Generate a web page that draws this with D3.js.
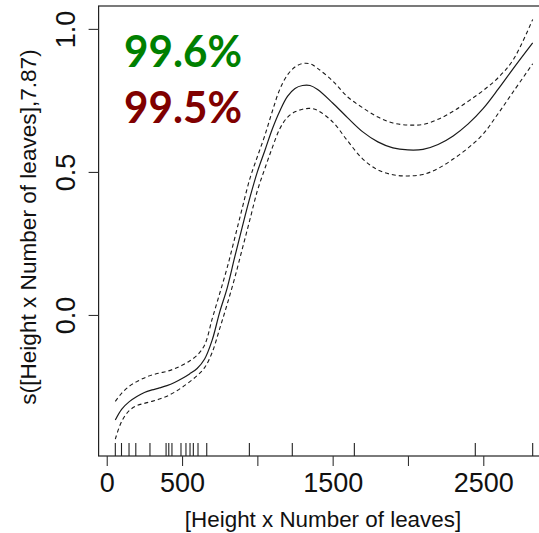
<!DOCTYPE html>
<html>
<head>
<meta charset="utf-8">
<script src="https://cdn.jsdelivr.net/npm/d3@7"></script>
<style>
  html, body { margin: 0; padding: 0; background: #fff; }
  svg { display: block; }
</style>
</head>
<body>
<div id="chart"></div>
<script>
// smooth term values
var xGrid = [57, 100, 150, 200, 250, 300, 350, 400, 450, 500, 550, 600, 650, 700, 750, 800, 850, 900, 950, 1000,
    1050, 1100, 1150, 1200, 1250, 1300, 1350, 1400, 1500, 1600, 1700, 1800, 1900, 2000, 2100, 2200, 2300, 2400,
    2500, 2600, 2700, 2828];

var fitVals = [-0.367, -0.329, -0.303, -0.285, -0.271, -0.262, -0.255, -0.247, -0.236, -0.222, -0.206, -0.187,
    -0.154, -0.088, 0.010, 0.095, 0.203, 0.308, 0.409, 0.500, 0.575, 0.651, 0.714, 0.764, 0.792, 0.802, 0.802,
    0.788, 0.741, 0.689, 0.640, 0.605, 0.584, 0.577, 0.579, 0.596, 0.626, 0.668, 0.722, 0.790, 0.862, 0.951];

var upperVals = [-0.302, -0.273, -0.249, -0.233, -0.220, -0.210, -0.203, -0.197, -0.188, -0.176, -0.161, -0.141,
    -0.105, -0.014, 0.075, 0.166, 0.269, 0.374, 0.476, 0.553, 0.628, 0.713, 0.790, 0.839, 0.867, 0.879, 0.878,
    0.862, 0.818, 0.762, 0.724, 0.692, 0.671, 0.664, 0.666, 0.684, 0.712, 0.747, 0.785, 0.830, 0.893, 1.033];

var lowerVals = [-0.434, -0.371, -0.334, -0.317, -0.309, -0.302, -0.294, -0.284, -0.270, -0.253, -0.234, -0.212,
    -0.184, -0.131, -0.048, 0.038, 0.130, 0.231, 0.332, 0.434, 0.512, 0.586, 0.652, 0.691, 0.710, 0.719, 0.722,
    0.715, 0.675, 0.608, 0.545, 0.507, 0.490, 0.486, 0.491, 0.512, 0.545, 0.584, 0.633, 0.705, 0.781, 0.878];

var rugX = [57, 98, 148, 193, 287, 394, 412, 433, 493, 526, 553, 575, 606, 664, 947, 1232, 1644, 2447, 2828];

var xTicks = [0, 500, 1000, 1500, 2000, 2500];
var xTickLabels = ['0', '500', '', '1500', '', '2500'];
var yTicks = [0, 0.5, 1.0];
var yTickLabels = ['0.0', '0.5', '1.0'];

var pctLabels = ['99.6%', '99.5%'];
var pctColors = ['#008000', '#800000'];

var W = 539, H = 533;
var box = { left: 98.6, right: 549.4, top: 6, bottom: 456 };

var svg = d3.select('#chart').append('svg').attr('width', W).attr('height', H);

var x = d3.scaleLinear().domain([-54, 2939]).range([box.left, box.right]);
var y = d3.scaleLinear().domain([-0.493, 1.080]).range([box.bottom, box.top]);

var axisFont = '"Liberation Sans", Arial, sans-serif';

// plot frame
svg.append('rect')
    .attr('x', box.left).attr('y', box.top)
    .attr('width', box.right - box.left).attr('height', box.bottom - box.top)
    .attr('fill', 'none').attr('stroke', '#222').attr('stroke-width', 1.2);

// x axis ticks + labels
var xAxis = d3.axisBottom(x).tickValues(xTicks).tickSize(10).tickSizeOuter(0)
    .tickFormat(function (d, i) { return xTickLabels[i]; });
var gx = svg.append('g').attr('transform', 'translate(0,' + box.bottom + ')').call(xAxis);
gx.select('.domain').remove();
gx.selectAll('line').attr('stroke', '#333').attr('stroke-width', 1.1);
gx.selectAll('text').attr('fill', '#111').attr('font-family', axisFont).attr('font-size', 27).attr('y', 36).attr('dy', 0);

// y axis ticks + rotated labels
var yAxis = d3.axisLeft(y).tickValues(yTicks).tickSize(10).tickSizeOuter(0)
    .tickFormat(function (d, i) { return yTickLabels[i]; });
var gy = svg.append('g').attr('transform', 'translate(' + box.left + ',0)').call(yAxis);
gy.select('.domain').remove();
gy.selectAll('line').attr('stroke', '#333').attr('stroke-width', 1.1);
gy.selectAll('text').remove();
gy.selectAll('.tick').append('text')
    .attr('transform', 'translate(-23.5,0) rotate(-90)')
    .attr('text-anchor', 'middle')
    .attr('fill', '#111').attr('font-family', axisFont).attr('font-size', 27)
    .text(function (d, i) { return yTickLabels[i]; });

// rug
svg.append('g').selectAll('line').data(rugX).enter().append('line')
    .attr('x1', function (d) { return x(d); }).attr('x2', function (d) { return x(d); })
    .attr('y1', box.bottom).attr('y2', box.bottom - 13)
    .attr('stroke', '#222').attr('stroke-width', 1.1);

// curves
var pts = xGrid.map(function (d, i) { return { x: d, fit: fitVals[i], up: upperVals[i], lo: lowerVals[i] }; });
function mkLine(key) {
    return d3.line().x(function (d) { return x(d.x); }).y(function (d) { return y(d[key]); })
        .curve(d3.curveCatmullRom.alpha(0.5));
}
svg.append('path').datum(pts).attr('d', mkLine('fit'))
    .attr('fill', 'none').attr('stroke', '#1a1a1a').attr('stroke-width', 1.2);
['up', 'lo'].forEach(function (k) {
    svg.append('path').datum(pts).attr('d', mkLine(k))
        .attr('fill', 'none').attr('stroke', '#1a1a1a').attr('stroke-width', 1.1)
        .attr('stroke-dasharray', '4,3');
});

// axis titles
svg.append('text')
    .attr('x', 323).attr('y', 527).attr('text-anchor', 'middle')
    .attr('font-family', axisFont).attr('font-size', 22.4).attr('fill', '#111')
    .text('[Height x Number of leaves]');
svg.append('text')
    .attr('transform', 'translate(36,227) rotate(-90)').attr('text-anchor', 'middle')
    .attr('font-family', axisFont).attr('font-size', 22.6).attr('fill', '#111')
    .text('s([Height x Number of leaves],7.87)');

// accuracy labels
svg.append('g').selectAll('text').data(pctLabels).enter().append('text')
    .attr('x', 124).attr('y', function (d, i) { return 66.7 + i * 56.6; })
    .attr('font-family', 'Lato, "Open Sans", sans-serif').attr('font-weight', 'bold').attr('font-size', 44)
    .attr('textLength', 118).attr('lengthAdjust', 'spacingAndGlyphs')
    .attr('fill', function (d, i) { return pctColors[i]; })
    .text(function (d) { return d; });
</script>
</body>
</html>
